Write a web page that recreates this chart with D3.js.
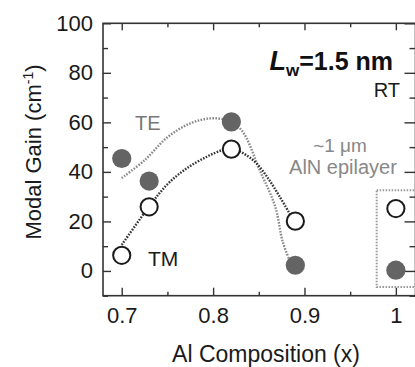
<!DOCTYPE html>
<html>
<head>
<meta charset="utf-8">
<script src="https://cdn.jsdelivr.net/npm/d3@7"></script>
<style>
  body { margin: 0; background: #fff; }
  svg { display: block; font-family: "Liberation Sans", Arial, sans-serif; }
</style>
</head>
<body>
<svg id="chart" width="415" height="367"></svg>
<script>
// measured points
const compX = [0.70, 0.73, 0.82, 0.89, 1.00];
const teGain = [45.4, 36.3, 60.2, 2.3, 0.3];
const tmGain = [6.3, 25.9, 49.2, 20.1, 25.2];

// dotted guide curves
const teFitX = [0.700, 0.725, 0.750, 0.775, 0.797, 0.815, 0.831, 0.851, 0.868, 0.876, 0.884];
const teFitY = [37.5, 44.7, 54.0, 59.6, 61.6, 60.8, 56.9, 40.7, 25.9, 12.0, 4.0];
const tmFitX = [0.700, 0.730, 0.750, 0.771, 0.793, 0.810, 0.820, 0.833, 0.846, 0.860, 0.873, 0.884];
const tmFitY = [10.5, 26.0, 35.0, 41.4, 46.1, 48.8, 49.5, 47.5, 44.0, 37.5, 29.9, 23.0];

// AlN epilayer box (data units)
const boxX = [0.979, 1.04];
const boxY = [-6.5, 32.6];

const xMajor = [0.7, 0.8, 0.9, 1.0];
const xMinor = [0.75, 0.85, 0.95];
const xLabels = ["0.7", "0.8", "0.9", "1"];
const yMajor = [0, 20, 40, 60, 80, 100];
const yMinor = [-10, 10, 30, 50, 70, 90];

const L = 103, R = 415.5, T = 23.3, B = 295.7;

const svg = d3.select("#chart");

const x = d3.scaleLinear().domain([0.6795, 1.0215]).range([L, R]);
const y = d3.scaleLinear().domain([-10, 100]).range([B, T]);

const axisCol = "#333";

function styleAxis(g) {
    g.select(".domain").remove();
    g.selectAll("line").attr("stroke", axisCol).attr("stroke-width", 1.4);
    g.selectAll("text").attr("fill", "#1a1a1a").style("font-size", "22px");
}

// bottom axis
svg.append("g")
    .attr("transform", `translate(0,${B})`)
    .call(d3.axisBottom(x).tickValues(xMajor).tickSize(-8).tickPadding(12)
        .tickFormat((d, i) => xLabels[i]))
    .call(styleAxis);
svg.append("g")
    .attr("transform", `translate(0,${B})`)
    .call(d3.axisBottom(x).tickValues(xMinor).tickSize(-4).tickFormat(""))
    .call(styleAxis);

// top axis
svg.append("g")
    .attr("transform", `translate(0,${T})`)
    .call(d3.axisTop(x).tickValues(xMajor).tickSize(-7).tickFormat(""))
    .call(styleAxis);
svg.append("g")
    .attr("transform", `translate(0,${T})`)
    .call(d3.axisTop(x).tickValues(xMinor).tickSize(-4).tickFormat(""))
    .call(styleAxis);

// left axis
svg.append("g")
    .attr("transform", `translate(${L},0)`)
    .call(d3.axisLeft(y).tickValues(yMajor).tickSize(-8).tickPadding(10))
    .call(styleAxis);
svg.append("g")
    .attr("transform", `translate(${L},0)`)
    .call(d3.axisLeft(y).tickValues(yMinor).tickSize(-5).tickFormat(""))
    .call(styleAxis);

// right axis
svg.append("g")
    .attr("transform", `translate(${R},0)`)
    .call(d3.axisRight(y).tickValues(yMajor).tickSize(-11).tickFormat(""))
    .call(styleAxis);
svg.append("g")
    .attr("transform", `translate(${R},0)`)
    .call(d3.axisRight(y).tickValues(yMinor).tickSize(-6).tickFormat(""))
    .call(styleAxis);

// frame
svg.append("rect")
    .attr("x", L).attr("y", T)
    .attr("width", R - L).attr("height", B - T)
    .attr("fill", "none").attr("stroke", axisCol).attr("stroke-width", 1.6);

// AlN box
svg.append("rect")
    .attr("x", x(boxX[0])).attr("y", y(boxY[1]))
    .attr("width", x(boxX[1]) - x(boxX[0]))
    .attr("height", y(boxY[0]) - y(boxY[1]))
    .attr("fill", "none").attr("stroke", "#999")
    .attr("stroke-width", 2).attr("stroke-dasharray", "1.5,1.5");

// guide curves
const line = d3.line().x(d => x(d[0])).y(d => y(d[1])).curve(d3.curveCatmullRom);
svg.append("path")
    .attr("d", line(d3.zip(teFitX, teFitY)))
    .attr("fill", "none").attr("stroke", "#8a8a8a")
    .attr("stroke-width", 2.4).attr("stroke-dasharray", "1.6,1.4");
svg.append("path")
    .attr("d", line(d3.zip(tmFitX, tmFitY)))
    .attr("fill", "none").attr("stroke", "#333")
    .attr("stroke-width", 2.4).attr("stroke-dasharray", "1.6,1.4");

// markers
svg.append("g").selectAll("circle")
    .data(d3.zip(compX, tmGain))
    .join("circle")
    .attr("cx", d => x(d[0])).attr("cy", d => y(d[1]))
    .attr("r", 8.6)
    .attr("fill", "#fff").attr("stroke", "#1a1a1a").attr("stroke-width", 2);
svg.append("g").selectAll("circle")
    .data(d3.zip(compX, teGain))
    .join("circle")
    .attr("cx", d => x(d[0])).attr("cy", d => y(d[1]))
    .attr("r", 9.6)
    .attr("fill", "#646464");

// labels inside plot
svg.append("text").attr("x", 135).attr("y", 129.5)
    .attr("fill", "#777").style("font-size", "20px").text("TE");
svg.append("text").attr("x", 148).attr("y", 266)
    .attr("fill", "#1a1a1a").style("font-size", "21px").text("TM");

const lw = svg.append("text").attr("x", 393).attr("y", 70)
    .attr("text-anchor", "end").attr("fill", "#111")
    .style("font-size", "25px").style("font-weight", "bold");
lw.append("tspan").style("font-style", "italic").style("font-size", "27px").text("L");
lw.append("tspan").attr("dy", 6).style("font-size", "17px").text("w");
lw.append("tspan").attr("dy", -6).text("=1.5 nm");

svg.append("text").attr("x", 400).attr("y", 97)
    .attr("text-anchor", "end").attr("fill", "#1a1a1a")
    .style("font-size", "20px").text("RT");

svg.append("text").attr("x", 340).attr("y", 152)
    .attr("text-anchor", "middle").attr("fill", "#888")
    .style("font-size", "19px").text("~1 \u03bcm");
svg.append("text").attr("x", 343).attr("y", 174)
    .attr("text-anchor", "middle").attr("fill", "#888")
    .style("font-size", "20px").text("AlN epilayer");

// axis titles
svg.append("text").attr("x", 266).attr("y", 362)
    .attr("text-anchor", "middle").attr("fill", "#1a1a1a")
    .style("font-size", "23px").text("Al Composition (x)");

const yt = svg.append("text")
    .attr("transform", "translate(41,152) rotate(-90)")
    .attr("text-anchor", "middle").attr("fill", "#1a1a1a")
    .style("font-size", "22px");
yt.append("tspan").text("Modal Gain (cm");
yt.append("tspan").attr("dy", -8).style("font-size", "14px").text("-1");
yt.append("tspan").attr("dy", 8).text(")");
</script>
</body>
</html>
